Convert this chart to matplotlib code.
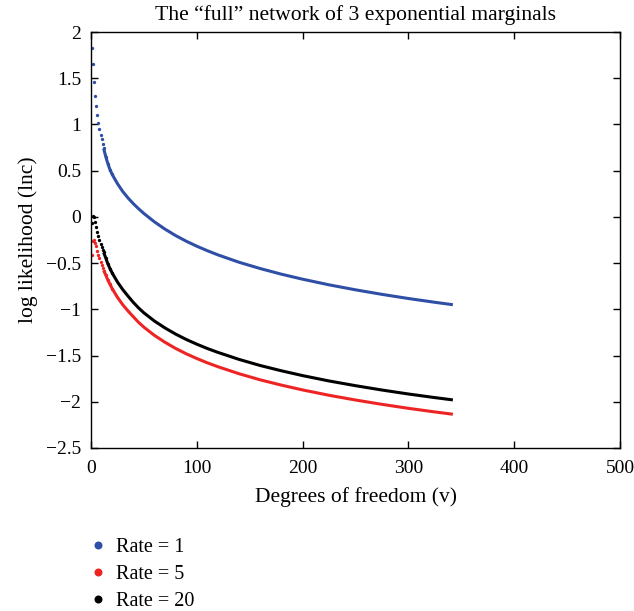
#!/usr/bin/env python3

import numpy as np
from matplotlib import pyplot as plt
from matplotlib.ticker import FuncFormatter

plt.rcParams['font.family'] = ['Liberation Serif', 'DejaVu Serif']
plt.rcParams['font.size'] = 14

dof = [1, 2, 3, 4, 5, 6, 7, 8, 9, 10, 11, 12, 14, 16, 18, 20, 25, 30, 35, 40,
       45, 50, 60, 70, 80, 90, 100, 110, 120, 140, 160, 180, 200, 225, 250,
       275, 300, 325, 342]

# log likelihood, one list per rate
rate1 = [1.83, 1.65, 1.46, 1.31, 1.20, 1.10, 1.02, 0.95, 0.89, 0.84, 0.79,
         0.74, 0.65, 0.575, 0.51, 0.46, 0.36, 0.275, 0.205, 0.143, 0.088,
         0.037, -0.054, -0.133, -0.202, -0.263, -0.317, -0.366, -0.411,
         -0.491, -0.559, -0.620, -0.674, -0.735, -0.789, -0.838, -0.883,
         -0.924, -0.95]
rate5 = [-0.41, -0.26, -0.25, -0.28, -0.32, -0.37, -0.41, -0.45, -0.49, -0.52,
         -0.55, -0.58, -0.63, -0.685, -0.73, -0.775, -0.87, -0.95, -1.018,
         -1.08, -1.141, -1.193, -1.282, -1.357, -1.423, -1.481, -1.532,
         -1.579, -1.621, -1.697, -1.763, -1.82, -1.872, -1.93, -1.981,
         -2.028, -2.071, -2.11, -2.135]
rate20 = [-0.07, 0.01, 0.0, -0.05, -0.11, -0.16, -0.21, -0.25, -0.29, -0.33,
          -0.36, -0.385, -0.445, -0.51, -0.56, -0.606, -0.704, -0.786,
          -0.857, -0.925, -0.985, -1.038, -1.127, -1.202, -1.268, -1.326,
          -1.377, -1.424, -1.466, -1.542, -1.608, -1.665, -1.717, -1.775,
          -1.826, -1.873, -1.916, -1.955, -1.98]

series = [('Rate = 1', rate1, '#2f4fa6'),
          ('Rate = 5', rate5, '#ee2424'),
          ('Rate = 20', rate20, 'black')]

fig = plt.figure(figsize=(6.34, 6.11), dpi=100)
ax = fig.add_axes([0.1435, 0.2668, 0.8345, 0.6808])

v = np.array(dof)
for label, vals, color in series:
    y = np.array(vals)
    early = v <= 20
    ax.plot(v[early], y[early], 'o', ms=2.4, mec='none', color=color, label=label)
    late = v >= 12
    ax.plot(v[late], y[late], '-', lw=2.2, color=color, solid_capstyle='butt')

ax.set_xlim(0, 500)
ax.set_ylim(-2.5, 2)
ax.set_xticks([0, 100, 200, 300, 400, 500])
ax.set_yticks(np.arange(-2.5, 2.01, 0.5))
ax.yaxis.set_major_formatter(FuncFormatter(lambda t, p: ('%g' % t).replace('-', '\u2212')))
ax.tick_params(direction='in', top=True, right=True, length=5, width=1, pad=7)
ax.tick_params(axis='x', pad=9)
for s in ax.spines.values():
    s.set_linewidth(1)

ax.set_title('The \u201cfull\u201d network of 3 exponential marginals', fontsize=15.6, pad=9)
ax.set_xlabel('Degrees of freedom (v)', fontsize=15.5, labelpad=7)
ax.set_ylabel('log likelihood (lnc)', fontsize=15.5, labelpad=6)

fig.legend(loc='upper left', bbox_to_anchor=(0.132, 0.133), frameon=False,
           fontsize=14.5, markerscale=2.4, handlelength=0.6, handletextpad=0.6,
           labelspacing=0.4, borderaxespad=0)

fig.savefig('out.png', dpi=100)
